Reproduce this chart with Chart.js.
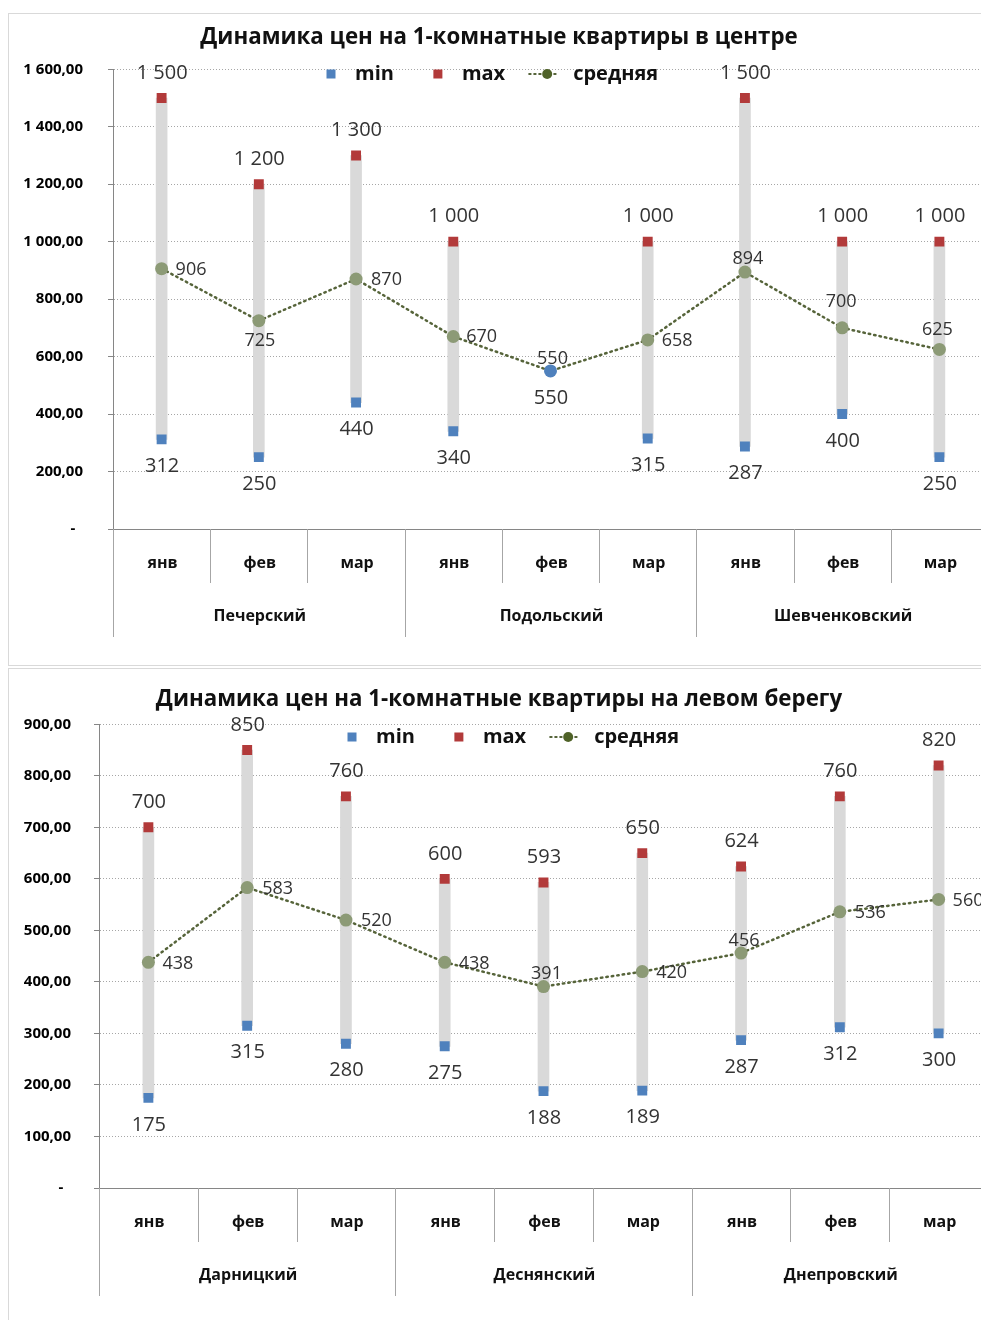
<!DOCTYPE html>
<html>
<head>
<meta charset="utf-8">
<script src="https://cdn.jsdelivr.net/npm/chart.js@4.4.1/dist/chart.umd.min.js"></script>
<style>
  body { margin: 0; background: #fff; width: 981px; height: 1320px; overflow: hidden; position: relative; }
  .panel { position: absolute; left: 8px; width: 1000px; height: 653px; border: 1px solid #d9d9d9; box-sizing: border-box; }
  #p1 { top: 13px; }
  #p2 { top: 668px; }
  canvas { display: block; }
</style>
</head>
<body>
<div class="panel" id="p1"><canvas id="centre" width="998" height="651"></canvas></div>
<div class="panel" id="p2"><canvas id="left" width="998" height="651"></canvas></div>
<script>
// месяцы одинаковые для обоих графиков
const MONTHS = ['янв', 'фев', 'мар', 'янв', 'фев', 'мар', 'янв', 'фев', 'мар'];

// центр
const centreDistricts = ['Печерский', 'Подольский', 'Шевченковский'];
const centreMin = [312, 250, 440, 340, 550, 315, 287, 400, 250];
const centreMax = [1500, 1200, 1300, 1000, null, 1000, 1500, 1000, 1000];
const centreAvg = [906, 725, 870, 670, 550, 658, 894, 700, 625];
const centreAxisMax = 1600;
const centreAxisStep = 200;

// левый берег
const leftDistricts = ['Дарницкий', 'Деснянский', 'Днепровский'];
const leftMin = [175, 315, 280, 275, 188, 189, 287, 312, 300];
const leftMax = [700, 850, 760, 600, 593, 650, 624, 760, 820];
const leftAvg = [438, 583, 520, 438, 391, 420, 456, 536, 560];
const leftAxisMax = 900;
const leftAxisStep = 100;

// куда ставить подпись средней относительно точки: [dx, dy, выравнивание]
const centreAvgLabelAt = [[14, 1, 'left'], [1, 20, 'center'], [15, 0, 'left'], [13, 0, 'left'], [2, -13, 'center'],
                          [14, 0, 'left'], [3, -14, 'center'], [-1, -26, 'center'], [-2, -20, 'center']];
const leftAvgLabelAt = [[14, 1, 'left'], [15, 1, 'left'], [15, 0, 'left'], [14, 1, 'left'], [3, -13, 'center'],
                        [14, 1, 'left'], [3, -13, 'center'], [15, 1, 'left'], [14, 1, 'left']];

const BLUE = '#4f81bd';
const RED = '#b23a3a';
const BAR = '#d9d9d9';
const SAGE = '#8c9a76';
const OLIVE = '#56643a';
const LEGEND_GREEN = '#4f6228';
const AXIS = '#868686';
const GRID = '#a6a6a6';
const SEP = '#a6a6a6';
const TEXT = '#333';
const FONT = "'Open Sans', sans-serif";

Chart.defaults.font.family = FONT;

function fmtInt(v) {
  return String(v).replace(/\B(?=(\d{3})+(?!\d))/g, ' ');
}
function fmtTick(v) {
  if (v === 0) return '-\u00a0\u00a0';
  return fmtInt(Math.floor(v)) + ',' + v.toFixed(2).split('.')[1];
}

const excelBits = {
  id: 'excelBits',
  afterDatasetsDraw(chart, args, opts) {
    const ctx = chart.ctx;
    const ds = chart.data.datasets;
    const minMeta = chart.getDatasetMeta(1);
    const maxMeta = chart.getDatasetMeta(2);
    const avgMeta = chart.getDatasetMeta(3);
    ctx.save();
    ctx.fillStyle = TEXT;
    ctx.textBaseline = 'middle';
    ctx.textAlign = 'center';
    ctx.font = '20px ' + FONT;
    maxMeta.data.forEach((pt, i) => {
      const v = ds[2].data[i];
      if (v == null) return;
      ctx.fillText(fmtInt(v), pt.x + 0.5, pt.y - 25);
    });
    minMeta.data.forEach((pt, i) => {
      ctx.fillText(fmtInt(ds[1].data[i]), pt.x + 0.5, pt.y + 27);
    });
    ctx.font = '18px ' + FONT;
    avgMeta.data.forEach((pt, i) => {
      const [dx, dy, align] = opts.avgLabelAt[i];
      ctx.textAlign = align;
      ctx.fillText(fmtInt(ds[3].data[i]), pt.x + dx, pt.y + dy + 0.5);
    });
    ctx.restore();
  },
  afterDraw(chart, args, opts) {
    const ctx = chart.ctx;
    const xs = chart.scales.x;
    const n = chart.data.labels.length;
    const step = xs.getPixelForValue(1) - xs.getPixelForValue(0);
    const x0 = xs.getPixelForValue(0) - step / 2;
    const top = xs.top;
    ctx.save();
    // разделители категорий
    ctx.strokeStyle = SEP;
    ctx.lineWidth = 1;
    for (let i = 0; i <= n; i++) {
      const x = Math.round(x0 + i * step) + 0.5;
      const len = i % 3 === 0 ? 108 : 54;
      ctx.beginPath();
      ctx.moveTo(x, top);
      ctx.lineTo(x, top + len);
      ctx.stroke();
    }
    // подписи месяцев и районов
    ctx.fillStyle = '#111';
    ctx.textAlign = 'center';
    ctx.textBaseline = 'middle';
    ctx.font = 'bold 16px ' + FONT;
    chart.data.labels.forEach((m, i) => ctx.fillText(m, xs.getPixelForValue(i) + 1, top + 34));
    opts.districts.forEach((d, g) => ctx.fillText(d, xs.getPixelForValue(g * 3 + 1) + 1, top + 87));

    // легенда поверх области построения
    const ds = chart.data.datasets;
    const y = opts.legendY;
    let x = opts.legendX;
    ctx.font = 'bold 20px ' + FONT;
    ctx.textAlign = 'left';
    ctx.fillStyle = BLUE;
    ctx.fillRect(x - 4.5, y - 4.5, 9, 9);
    ctx.fillStyle = '#111';
    ctx.fillText(ds[1].label, x + 24, y);
    x = x + 24 + ctx.measureText(ds[1].label).width + 44;
    ctx.fillStyle = RED;
    ctx.fillRect(x - 4.5, y - 4.5, 9, 9);
    ctx.fillStyle = '#111';
    ctx.fillText(ds[2].label, x + 24, y);
    x = x + 24 + ctx.measureText(ds[2].label).width + 24;
    ctx.strokeStyle = OLIVE;
    ctx.lineWidth = 2;
    ctx.setLineDash([1.5, 3.5]);
    ctx.lineCap = 'round';
    ctx.beginPath();
    ctx.moveTo(x, y);
    ctx.lineTo(x + 29, y);
    ctx.stroke();
    ctx.setLineDash([]);
    ctx.fillStyle = LEGEND_GREEN;
    ctx.beginPath();
    ctx.arc(x + 18, y, 5, 0, Math.PI * 2);
    ctx.fill();
    ctx.fillStyle = '#111';
    ctx.fillText(ds[3].label, x + 44, y);
    ctx.restore();
  }
};

function buildChart(id, d) {
  const ranges = d.min.map((v, i) => d.max[i] == null ? null : [v, d.max[i]]);
  const single = d.max.map(v => v == null);
  return new Chart(document.getElementById(id), {
    type: 'bar',
    data: {
      labels: MONTHS,
      datasets: [
        { label: 'диапазон', data: ranges, backgroundColor: BAR, barThickness: 11, order: 2 },
        { type: 'line', label: 'min', data: d.min, showLine: false, pointStyle: 'rect',
          pointRadius: single.map(s => s ? 0 : 7), pointBackgroundColor: BLUE, pointBorderWidth: 0, order: 1 },
        { type: 'line', label: 'max', data: d.max, showLine: false, pointStyle: 'rect',
          pointRadius: 7, pointBackgroundColor: RED, pointBorderWidth: 0, order: 1 },
        { type: 'line', label: 'средняя', data: d.avg, borderColor: OLIVE, borderWidth: 2.5,
          borderDash: [1.5, 4], borderCapStyle: 'round', pointRadius: 6.5,
          pointBackgroundColor: single.map(s => s ? BLUE : SAGE), pointBorderWidth: 0, order: 0 }
      ]
    },
    options: {
      responsive: false,
      animation: false,
      events: [],
      layout: { padding: { left: 1, right: 19, top: 0, bottom: 0 } },
      scales: {
        x: {
          offset: true,
          grid: { display: false },
          ticks: { display: false },
          border: { display: true, color: AXIS },
          afterFit: s => { s.height = d.xAxisH; }
        },
        y: {
          min: 0,
          max: d.axisMax,
          ticks: { stepSize: d.axisStep, padding: d.tickPad, color: '#000',
                   font: { weight: 'bold', size: 15 }, callback: fmtTick },
          grid: { color: c => (c.tick && c.tick.value === 0) ? 'rgba(0,0,0,0)' : GRID,
                  drawTicks: true, tickLength: 5, tickColor: AXIS },
          border: { display: true, color: AXIS, dash: [1, 2] },
          afterFit: s => { s.width = d.yAxisW; }
        }
      },
      plugins: {
        legend: { display: false },
        tooltip: { enabled: false },
        title: { display: true, text: d.title, color: '#111',
                 font: { size: 22.3, weight: 'bold' }, padding: d.titlePad },
        excelBits: { districts: d.districts, avgLabelAt: d.avgLabelAt, legendX: d.legendX, legendY: d.legendY }
      }
    },
    plugins: [excelBits]
  });
}

buildChart('centre', {
  title: 'Динамика цен на 1-комнатные квартиры в центре',
  districts: centreDistricts, min: centreMin, max: centreMax, avg: centreAvg,
  axisMax: centreAxisMax, axisStep: centreAxisStep, avgLabelAt: centreAvgLabelAt,
  titlePad: { top: 10.5, bottom: 18 }, xAxisH: 136, yAxisW: 103, tickPad: 25,
  legendX: 322, legendY: 60
});

buildChart('left', {
  title: 'Динамика цен на 1-комнатные квартиры на левом берегу',
  districts: leftDistricts, min: leftMin, max: leftMax, avg: leftAvg,
  axisMax: leftAxisMax, axisStep: leftAxisStep, avgLabelAt: leftAvgLabelAt,
  titlePad: { top: 17.5, bottom: 11 }, xAxisH: 132, yAxisW: 89, tickPad: 23,
  legendX: 343, legendY: 68
});
</script>
</body>
</html>
